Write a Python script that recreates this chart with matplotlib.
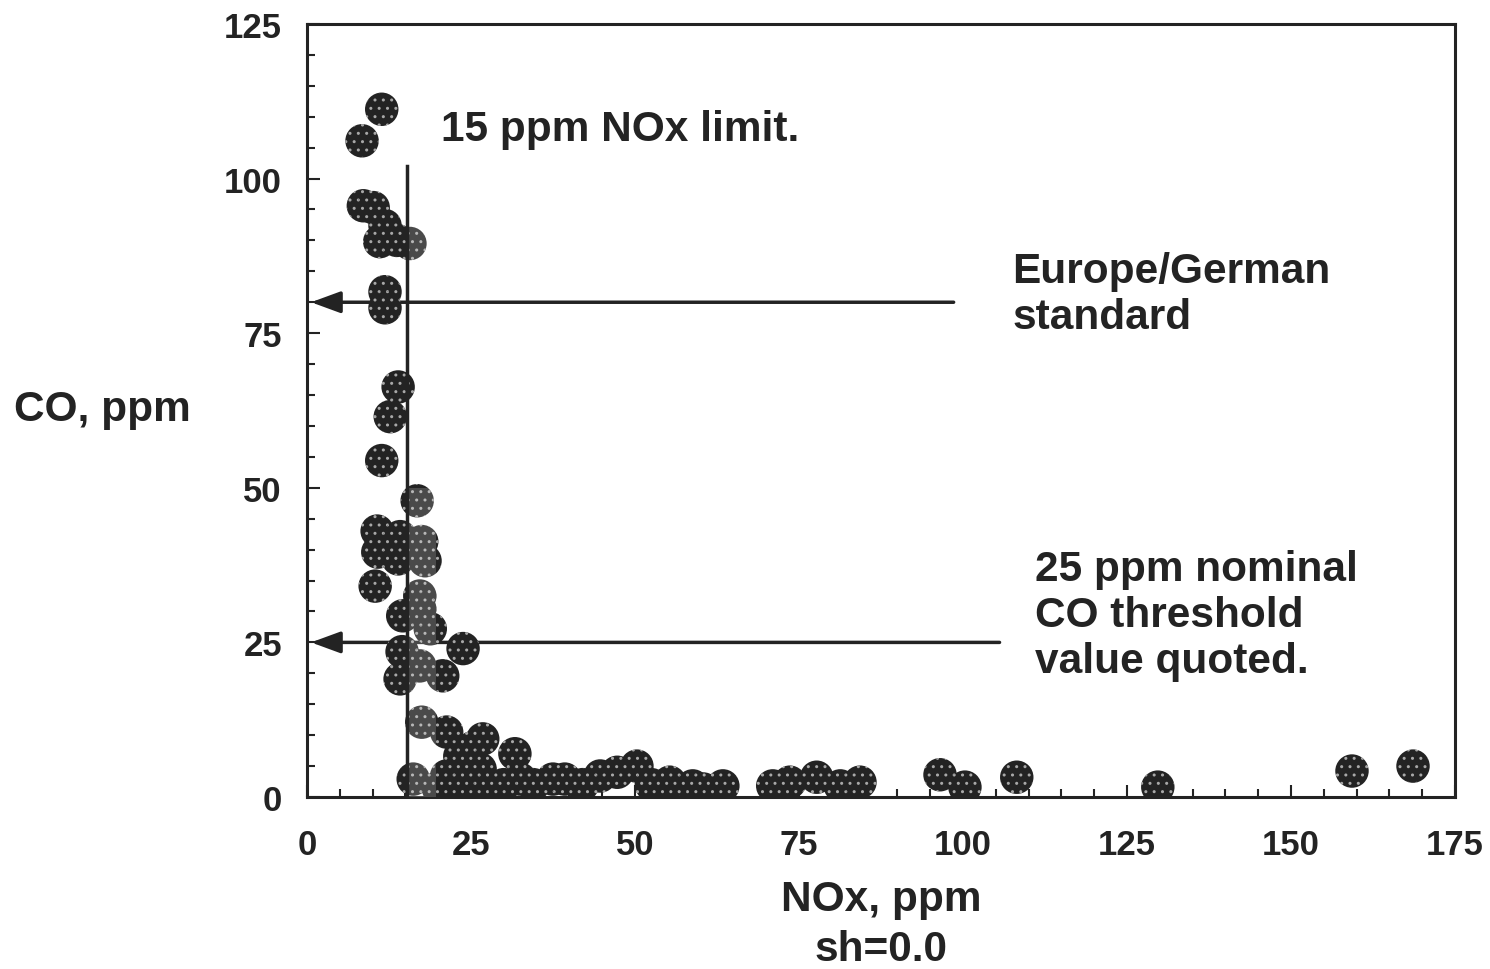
import matplotlib
matplotlib.use("Agg")
import matplotlib.pyplot as plt
from matplotlib.ticker import MultipleLocator

plt.rcParams['font.family'] = ['Liberation Sans', 'DejaVu Sans']
plt.rcParams['font.weight'] = 'bold'

# Data (NOx ppm, CO ppm)
nox = [8.4, 11.4, 8.6, 10.1, 11.1, 11.9, 13.7, 15.7, 11.9, 11.9,
       13.9, 12.7, 11.4, 16.8,
       10.7, 10.8, 14.2, 13.9, 17.5, 18.0, 10.4, 17.2,
       14.6, 14.5, 14.2, 18.8, 17.2, 17.2, 20.7, 23.8,
       17.5, 21.3, 26.8, 25.3, 31.7, 23.3, 16.2, 21.3, 26.4, 32.5,
       20.0, 24.0, 28.0, 30.0, 34.5,
       37.5, 39.3, 44.7, 47.3, 50.3, 55.3, 58.8, 42.0, 52.5,
       60.4, 63.4, 71.0, 73.6, 77.7, 81.3, 84.3,
       96.5, 100.3, 108.2, 129.7, 159.3, 168.6]
co = [106.1, 111.2, 95.6, 95.3, 89.8, 92.4, 90.0, 89.5, 81.7, 79.1,
      66.3, 61.5, 54.4, 47.9,
      43.0, 39.6, 42.1, 38.5, 41.3, 38.2, 34.1, 32.5,
      29.3, 23.5, 19.1, 27.2, 30.4, 21.2, 19.6, 24.0,
      12.1, 10.5, 9.4, 8.0, 7.0, 6.6, 2.9, 3.4, 4.5, 2.9,
      1.5, 1.5, 1.5, 2.0, 2.0,
      2.9, 2.9, 3.4, 4.0, 5.0, 2.4, 1.8, 2.0, 2.0,
      1.3, 1.8, 1.8, 2.4, 3.2, 1.8, 2.4,
      3.6, 1.6, 3.2, 1.6, 4.2, 5.0]

nox_limit = 15.2
co_eu = 80
co_nominal = 25

xticks = [0, 25, 50, 75, 100, 125, 150, 175]
yticks = [0, 25, 50, 75, 100, 125]

dark = '#232323'

fig = plt.figure(figsize=(14.9, 9.7), dpi=100)
ax = fig.add_axes([0.206, 0.1773, 0.7705, 0.797])
ax.set_xlim(0, 175)
ax.set_ylim(0, 125)

# arrows (under markers)
ax.annotate('', xy=(0.2, co_eu), xytext=(99, co_eu),
            arrowprops=dict(arrowstyle='-|>,head_length=0.6,head_width=0.22',
                            lw=2.5, color=dark, mutation_scale=30), zorder=1)
ax.annotate('', xy=(0.2, co_nominal), xytext=(106, co_nominal),
            arrowprops=dict(arrowstyle='-|>,head_length=0.6,head_width=0.22',
                            lw=2.5, color=dark, mutation_scale=30), zorder=1)

ax.scatter(nox, co, s=580, facecolors=dark, edgecolors='#a8a8a8',
           linewidths=0, hatch='..', zorder=3, clip_on=True)

# lighter band right of the limit line (as in the scan)
ax.axvspan(nox_limit, 19.6, ymin=0, ymax=50 / 125, color='white', alpha=0.18,
           lw=0, zorder=4)
ax.axvspan(nox_limit, 19.0, ymin=85 / 125, ymax=95 / 125, color='white',
           alpha=0.18, lw=0, zorder=4)

ax.plot([nox_limit, nox_limit], [0, 102], color=dark, lw=2.5, zorder=5)

ax.set_xticks(xticks)
ax.set_yticks(yticks)
ax.xaxis.set_minor_locator(MultipleLocator(5))
ax.yaxis.set_minor_locator(MultipleLocator(5))
ax.tick_params(which='both', direction='in', colors=dark, width=1.5,
               labelsize=25, top=False, right=False)
ax.tick_params(which='major', length=9, pad=18)
ax.tick_params(which='minor', length=6)
ax.tick_params(axis='x', which='major', pad=22)
for lab in ax.get_xticklabels() + ax.get_yticklabels():
    lab.set_fontweight('bold')
    lab.set_color(dark)
for sp in ax.spines.values():
    sp.set_linewidth(2.2)
    sp.set_color(dark)

tkw = dict(fontsize=30.5, fontweight='bold', color=dark)
ax.text(20.5, 108, '15 ppm NOx limit.', ha='left', va='center', **tkw)
ax.text(107.5, 81.3, 'Europe/German\nstandard', ha='left', va='center',
        linespacing=1.2, **tkw)
ax.text(111, 29.4, '25 ppm nominal\nCO threshold\nvalue quoted.', ha='left',
        va='center', linespacing=1.2, **tkw)

fig.text(102 / 1490, 1 - 410 / 970, 'CO, ppm', ha='center', va='center', **tkw)
fig.text(881 / 1490, 1 - 900 / 970, 'NOx, ppm', ha='center', va='center', **tkw)
fig.text(881 / 1490, 1 - 950 / 970, 'sh=0.0', ha='center', va='center', **tkw)

fig.savefig('out.png', dpi=100, facecolor='white')
